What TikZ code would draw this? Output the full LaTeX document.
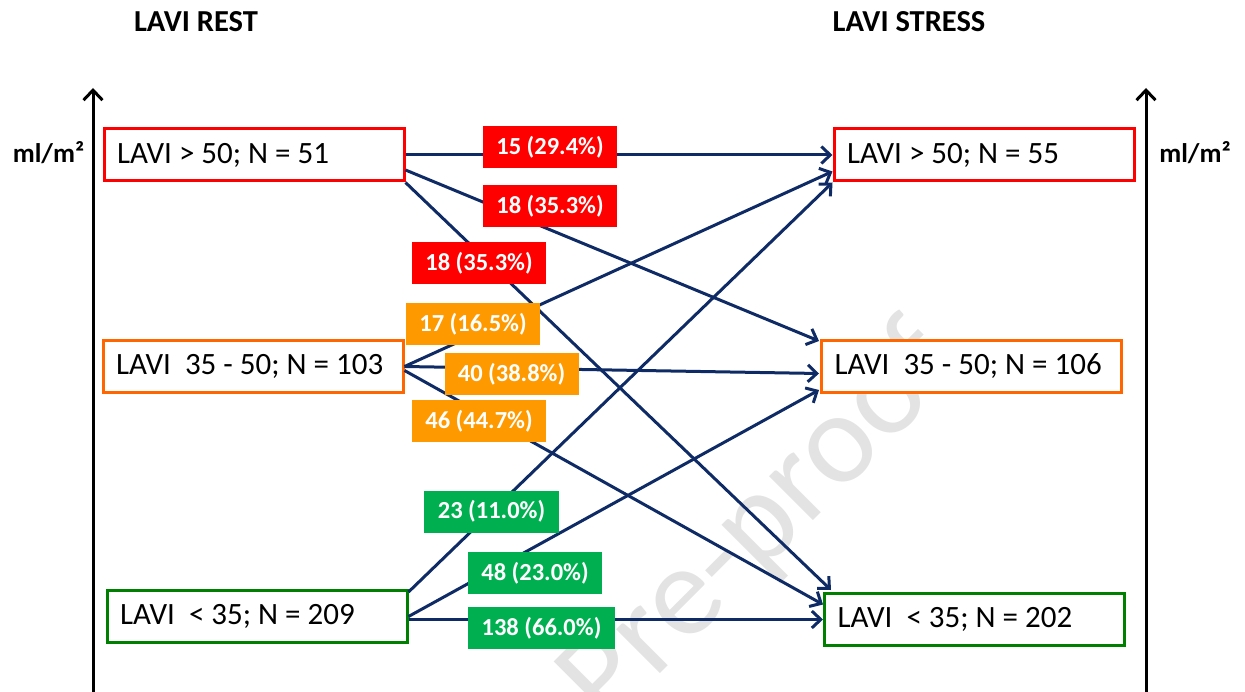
\documentclass[tikz,border=0pt]{standalone}
\usepackage{fontspec}
\setmainfont{Carlito}
\usetikzlibrary{arrows.meta,calc}
\definecolor{cred}{HTML}{FF0000}
\definecolor{corfill}{HTML}{FF9900}
\definecolor{corline}{HTML}{FF6600}
\definecolor{cgrfill}{HTML}{00B050}
\definecolor{cgrline}{HTML}{008000}
\definecolor{cnavy}{HTML}{0F2B66}
\newcommand{\boxtext}[1]{\makebox[274pt][l]{#1}}
\tikzset{
  valbox/.style={draw, line width=3pt, fill=white, minimum height=52pt,
    inner xsep=13pt, inner ysep=0pt, font=\fontsize{31}{36}\selectfont},
  tag/.style={text=white, inner sep=0pt, minimum width=134pt, minimum height=42pt,
    font=\bfseries\fontsize{24.5}{28}\selectfont},
  flow/.style={draw=cnavy, line width=3pt, -{Straight Barb[length=9pt,width=17pt,line width=3pt]}},
  axisline/.style={draw=black, line width=3pt, -{Straight Barb[length=10pt,width=19pt,line width=3pt]}},
  heading/.style={font=\bfseries\fontsize{30.5}{34}\selectfont},
  unit/.style={font=\bfseries\fontsize{27}{30}\selectfont}
}
\begin{document}
\begin{tikzpicture}[x=1pt,y=-1pt]
\useasboundingbox (0,0) rectangle (1245,692);
\clip (0,0) rectangle (1245,692);
% watermark
\node[text=black!11, rotate=45, anchor=east, inner sep=0pt, font=\fontsize{130}{130}\selectfont] (wm) at (939,347) {Pre-proof};
% headings
\node[heading] (tl) at (196,22) {LAVI REST};
\node[heading] (tr) at (909,22) {LAVI STRESS};
% axes
\coordinate (al0) at (93,692);
\coordinate (al1) at (93,88);
\coordinate (ar0) at (1146,692);
\coordinate (ar1) at (1146,88);
\draw[axisline] (al0) -- (al1);
\draw[axisline] (ar0) -- (ar1);
\node[unit] (ul) at (48.5,153) {ml/m²};
\node[unit] (ur) at (1195,153) {ml/m²};
% boxes
\node[valbox, draw=cred] (lR) at (254,155) {\boxtext{LAVI > 50; N = 51}};
\node[valbox, draw=corline] (lO) at (253,366.5) {\boxtext{LAVI\ \ 35 - 50; N = 103}};
\node[valbox, draw=cgrline] (lG) at (257,616.5) {\boxtext{LAVI\ \ < 35; N = 209}};
\node[valbox, draw=cred] (rR) at (984,155) {\boxtext{LAVI > 50; N = 55}};
\node[valbox, draw=corline] (rO) at (971.5,366.5) {\boxtext{LAVI\ \ 35 - 50; N = 106}};
\node[valbox, draw=cgrline] (rG) at (974.5,619.5) {\boxtext{LAVI\ \ < 35; N = 202}};
% flows
\draw[flow] (lR.east) -- (rR.west);
\draw[flow] ($(lR.east)+(0,15)$) -- ($(rO.north west)+(-1,2)$);
\draw[flow] (lR.south east) -- ($(rG.north west)+(8,-2)$);
\draw[flow] (lO.east) -- ($(rR.south west)+(0,-11)$);
\draw[flow] (lO.east) -- ($(rO.west)+(-1,7)$);
\draw[flow] ($(lO.east)+(0,4)$) -- ($(rG.west)+(0,-15)$);
\draw[flow] ($(lG.north east)+(0,3)$) -- (rR.south west);
\draw[flow] (lG.east) -- ($(rO.south west)+(-1,-4)$);
\draw[flow] ($(lG.east)+(0,3)$) -- (rG.west);
% tags
\node[tag, fill=cred] (t1) at (550,147) {15 (29.4\%)};
\node[tag, fill=cred] (t2) at (550,206) {18 (35.3\%)};
\node[tag, fill=cred] (t3) at (479,263) {18 (35.3\%)};
\node[tag, fill=corfill] (t4) at (473,324) {17 (16.5\%)};
\node[tag, fill=corfill] (t5) at (511.5,374) {40 (38.8\%)};
\node[tag, fill=corfill] (t6) at (479,421) {46 (44.7\%)};
\node[tag, fill=cgrfill, minimum width=135pt] (t7) at (491.5,511.5) {23 (11.0\%)};
\node[tag, fill=cgrfill] (t8) at (535,573) {48 (23.0\%)};
\node[tag, fill=cgrfill, minimum width=147pt] (t9) at (541.5,628) {138 (66.0\%)};
\end{tikzpicture}
\end{document}
